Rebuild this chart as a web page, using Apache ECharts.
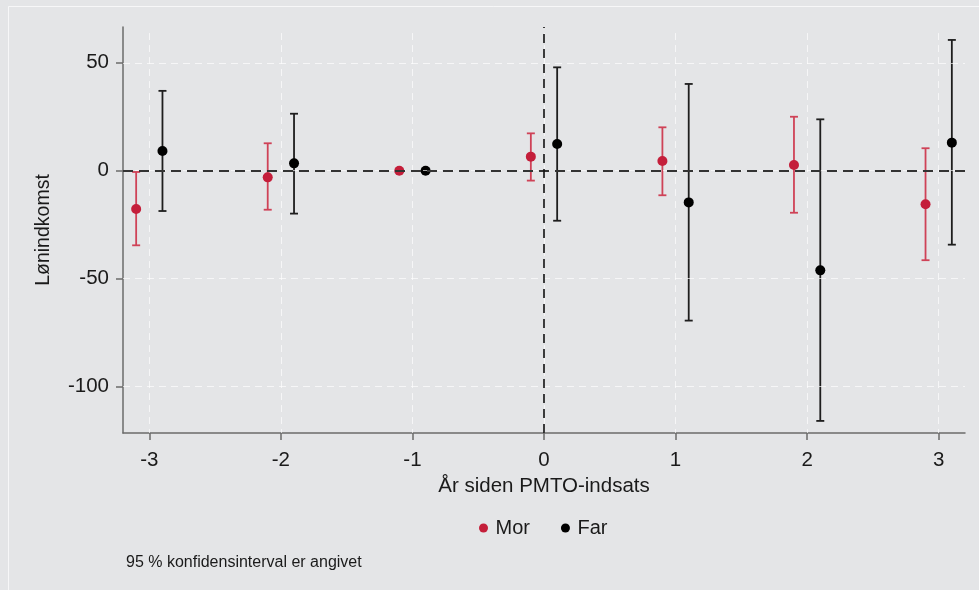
<!DOCTYPE html>
<html>
<head>
<meta charset="utf-8">
<script src="https://cdn.jsdelivr.net/npm/echarts@6/dist/echarts.min.js"></script>
<style>
  html, body { margin: 0; padding: 0; background: #e4e5e7; }
  #chart { width: 979px; height: 590px; }
</style>
</head>
<body>
<div id="chart"></div>
<script>
// Years relative to the PMTO intervention
const years = [-3, -2, -1, 0, 1, 2, 3];
const xTicks = [-3, -2, -1, 0, 1, 2, 3];
const yTicks = [-100, -50, 0, 50];

// Mothers: estimate with 95 % confidence bounds (reference year has none)
const morEst  = [-17.8, -3.1, 0, 6.5, 4.5, 2.6, -15.6];
const morLow  = [-34.6, -18.1, null, -4.6, -11.4, -19.5, -41.5];
const morHigh = [-0.6, 12.7, null, 17.3, 20.1, 25.0, 10.4];

// Fathers: estimate with 95 % confidence bounds
const farEst  = [9.1, 3.4, 0, 12.4, -14.7, -46.2, 13.0];
const farLow  = [-18.7, -19.9, null, -23.2, -69.5, -116.0, -34.3];
const farHigh = [37.0, 26.4, null, 47.9, 40.2, 23.8, 60.6];

const MOR_COLOR = '#c41e3a';
const MOR_BAR = '#cf4257';
const FAR_COLOR = '#000000';
const FAR_BAR = '#1e1e1e';
const SHIFT = 0.1;   // horizontal dodge between the two groups
const FONT = '"Liberation Sans", Arial, sans-serif';
const Y_MIN = -121.6, Y_MAX = 66.6, GRID_TOP = 63.8;

function points(est, dx) {
  return years.map((y, i) => [y + dx, est[i]]);
}
function intervals(low, high, dx) {
  return years.map((y, i) => [y + dx, low[i], high[i]]).filter(d => d[1] != null);
}
function errorBars(color) {
  return function (params, api) {
    const x = api.value(0);
    const lo = api.coord([x, api.value(1)]);
    const hi = api.coord([x, api.value(2)]);
    const cap = 4;
    const style = { stroke: color, lineWidth: 1.8 };
    return {
      type: 'group',
      children: [
        { type: 'line', shape: { x1: lo[0], y1: lo[1], x2: hi[0], y2: hi[1] }, style },
        { type: 'line', shape: { x1: lo[0] - cap, y1: lo[1], x2: lo[0] + cap, y2: lo[1] }, style },
        { type: 'line', shape: { x1: hi[0] - cap, y1: hi[1], x2: hi[0] + cap, y2: hi[1] }, style }
      ]
    };
  };
}

// White dashed grid: vertical lines stop a little below the top of the plot
const gridLine = { color: 'rgba(255,255,255,0.65)', width: 1, type: [7, 5] };
const gridMarks = xTicks.map(v => [
    { coord: [v, GRID_TOP], lineStyle: gridLine },
    { coord: [v, Y_MIN] }
  ]).concat(yTicks.map(v => ({ yAxis: v, lineStyle: gridLine })));

const chart = echarts.init(document.getElementById('chart'), null, { renderer: 'canvas' });
chart.setOption({
  backgroundColor: '#e4e5e7',
  animation: false,
  textStyle: { fontFamily: FONT },
  grid: { left: 123, right: 14, top: 27, bottom: 157 },
  xAxis: {
    type: 'value', min: -3.2, max: 3.2,
    name: 'År siden PMTO-indsats', nameLocation: 'middle', nameGap: 43,
    nameTextStyle: { fontSize: 20.5, color: '#1a1a1a', fontFamily: FONT },
    axisLine: { onZero: false, lineStyle: { color: '#6b6b6b', width: 1.5 } },
    axisTick: { customValues: xTicks, length: 7, lineStyle: { color: '#6b6b6b', width: 1.5 } },
    axisLabel: { customValues: xTicks, fontSize: 20.5, color: '#1a1a1a', margin: 17, fontFamily: FONT },
    splitLine: { show: false }
  },
  yAxis: {
    type: 'value', min: Y_MIN, max: Y_MAX,
    name: 'Lønindkomst', nameLocation: 'middle', nameGap: 69,
    nameTextStyle: { fontSize: 19.5, color: '#1a1a1a', fontFamily: FONT },
    axisLine: { show: true, onZero: false, lineStyle: { color: '#6b6b6b', width: 1.5 } },
    axisTick: { show: true, customValues: yTicks, length: 7, lineStyle: { color: '#6b6b6b', width: 1.5 } },
    axisLabel: { customValues: yTicks, fontSize: 20.5, color: '#1a1a1a', margin: 14, fontFamily: FONT },
    splitLine: { show: false }
  },
  legend: {
    data: ['Mor', 'Far'],
    left: 474, top: 513,
    icon: 'circle', itemWidth: 14, itemHeight: 9, itemGap: 31,
    textStyle: { fontSize: 20, color: '#1a1a1a', fontFamily: FONT }
  },
  graphic: [
    { type: 'line', shape: { x1: 8.5, y1: 6.5, x2: 979, y2: 6.5 }, style: { stroke: 'rgba(255,255,255,0.7)', lineWidth: 1 }, silent: true },
    { type: 'line', shape: { x1: 8.5, y1: 6.5, x2: 8.5, y2: 590 }, style: { stroke: 'rgba(255,255,255,0.7)', lineWidth: 1 }, silent: true },
    {
      type: 'text', left: 126, top: 555,
      style: { text: '95 % konfidensinterval er angivet', fontSize: 16, fill: '#1a1a1a', font: '16px ' + FONT }
    }
  ],
  series: [
    {
      name: 'grid', type: 'line', data: [], silent: true, z: 1,
      markLine: { silent: true, symbol: 'none', label: { show: false }, data: gridMarks }
    },
    {
      name: 'reference', type: 'line', data: [], silent: true, z: 2,
      markLine: {
        silent: true, symbol: 'none', label: { show: false },
        data: [
          { yAxis: 0, lineStyle: { color: '#333333', width: 2, type: [10, 6] } },
          { xAxis: 0, lineStyle: { color: '#111111', width: 1.6, type: [9, 6] } }
        ]
      }
    },
    { name: 'Mor CI', type: 'custom', renderItem: errorBars(MOR_BAR), data: intervals(morLow, morHigh, -SHIFT), z: 3, silent: true },
    { name: 'Far CI', type: 'custom', renderItem: errorBars(FAR_BAR), data: intervals(farLow, farHigh, SHIFT), z: 3, silent: true },
    { name: 'Mor', type: 'scatter', data: points(morEst, -SHIFT), symbolSize: 10, itemStyle: { color: MOR_COLOR, opacity: 1 }, z: 4 },
    { name: 'Far', type: 'scatter', data: points(farEst, SHIFT), symbolSize: 10, itemStyle: { color: FAR_COLOR, opacity: 1 }, z: 4 }
  ]
});
</script>
</body>
</html>
